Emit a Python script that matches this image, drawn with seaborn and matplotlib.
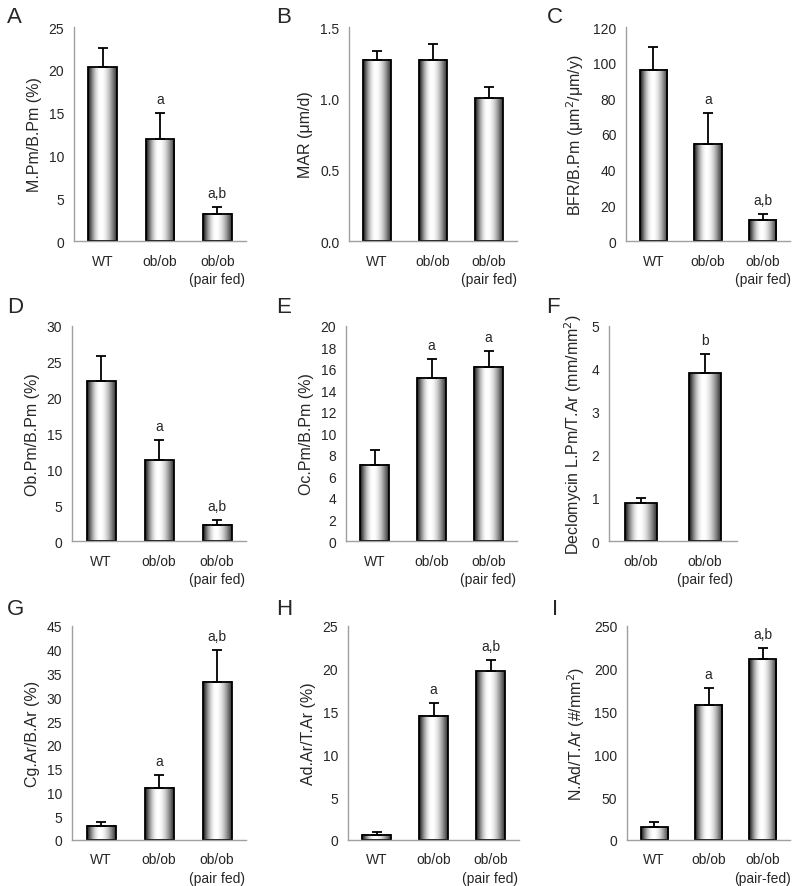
#!/usr/bin/python3
import numpy as np
import pandas as pd
import matplotlib
matplotlib.use('Agg')
from matplotlib import pyplot as plt
from matplotlib import ticker as ticker
import seaborn as sns

sns.set_style('white')
plt.rcParams['font.family'] = ['Liberation Sans', 'DejaVu Sans']

# data (mean, upper error)
three = ['WT', 'ob/ob', 'ob/ob\n(pair fed)']
three_dash = ['WT', 'ob/ob', 'ob/ob\n(pair-fed)']
two = ['ob/ob', 'ob/ob\n(pair fed)']

mpm_mean = [20.3, 11.9, 3.2]
mpm_err = [2.3, 3.1, 0.8]
mpm_marks = ['', 'a', 'a,b']

mar_mean = [1.27, 1.27, 1.00]
mar_err = [0.06, 0.11, 0.08]
mar_marks = ['', '', '']

bfr_mean = [96, 54.5, 12]
bfr_err = [13, 17.5, 3]
bfr_marks = ['', 'a', 'a,b']

obpm_mean = [22.3, 11.3, 2.3]
obpm_err = [3.5, 2.8, 0.6]
obpm_marks = ['', 'a', 'a,b']

ocpm_mean = [7.1, 15.2, 16.2]
ocpm_err = [1.4, 1.7, 1.5]
ocpm_marks = ['', 'a', 'a']

lpm_mean = [0.88, 3.9]
lpm_err = [0.13, 0.44]
lpm_marks = ['', 'b']

cgar_mean = [3.0, 11.0, 33.3]
cgar_err = [0.8, 2.7, 6.6]
cgar_marks = ['', 'a', 'a,b']

adar_mean = [0.6, 14.5, 19.7]
adar_err = [0.35, 1.5, 1.3]
adar_marks = ['', 'a', 'a,b']

nad_mean = [15, 158, 211]
nad_err = [6, 20, 13]
nad_marks = ['', 'a', 'a,b']


W, H = 800, 887
fig = plt.figure(figsize=(W/100, H/100), dpi=100)

# cylinder-like shading for the bars
xs = np.linspace(0, 1, 200)
shade = np.where(xs < 0.45,
                 0.06 + 0.94*np.sin(np.pi/2*xs/0.45),
                 0.18 + 0.82*np.cos(np.pi/2*(xs-0.45)/0.55))
grad = shade[np.newaxis, :]

gray = '#a0a0a0'
fs = 10


def panel(box, cats, means, errs, marks, ymax, step, ylabel, letter, letter_xy, fmt='%d'):
    left, right, top, bottom = box
    ax = fig.add_axes([left/W, 1-bottom/H, (right-left)/W, (bottom-top)/H])
    df = pd.DataFrame({'group': cats, 'value': means})
    sns.barplot(data=df, x='group', y='value', ax=ax, width=0.5, color='white',
                edgecolor='black', linewidth=1.3, errorbar=None)
    for p in ax.patches:
        p.set_facecolor('none')
        p.set_zorder(2)
        x0, y0, w, h = p.get_x(), p.get_y(), p.get_width(), p.get_height()
        ax.imshow(grad, extent=[x0, x0+w, y0, y0+h], aspect='auto', cmap='gray',
                  vmin=0, vmax=1, zorder=1, interpolation='bilinear')
    n = len(cats)
    ax.errorbar(range(n), means, yerr=[np.zeros(n), errs], fmt='none', ecolor='black',
                elinewidth=1.3, capsize=3.5, capthick=1.3, zorder=3)
    for i in range(n):
        if marks[i]:
            ax.annotate(marks[i], (i, means[i]+errs[i]), xytext=(0, 5), textcoords='offset points',
                        ha='center', va='bottom', fontsize=fs)
    ax.set_xlim(-0.5, n-0.5)
    ax.set_ylim(0, ymax)
    ax.yaxis.set_major_locator(ticker.MultipleLocator(step))
    ax.yaxis.set_major_formatter(ticker.FormatStrFormatter(fmt))
    ax.xaxis.set_minor_locator(ticker.FixedLocator(np.arange(n+1)-0.5))
    ax.tick_params(axis='x', which='major', length=0, pad=9, labelsize=fs)
    ax.tick_params(axis='x', which='minor', length=4, color=gray, direction='out', width=1)
    ax.tick_params(axis='y', length=4, color=gray, direction='out', width=1, labelsize=fs, pad=3)
    ax.set_xticks(range(n))
    ax.set_xticklabels(cats, linespacing=1.45)
    ax.set_xlabel('')
    ax.set_ylabel(ylabel, fontsize=11.5, labelpad=5)
    for s in ['top', 'right']:
        ax.spines[s].set_visible(False)
    for s in ['left', 'bottom']:
        ax.spines[s].set_color(gray)
        ax.spines[s].set_linewidth(1)
    ax.patch.set_alpha(0)
    fig.text(letter_xy[0]/W, 1-letter_xy[1]/H, letter, fontsize=16, va='top', ha='left')
    return ax


panel((74, 246, 28, 242), three, mpm_mean, mpm_err, mpm_marks, 25, 5, 'M.Pm/B.Pm (%)', 'A', (7, 7))
panel((349, 517, 28, 242), three, mar_mean, mar_err, mar_marks, 1.5, 0.5, 'MAR (\u03bcm/d)', 'B', (276, 7), fmt='%.1f')
panel((626, 790, 28, 242), three, bfr_mean, bfr_err, bfr_marks, 120, 20,
      'BFR/B.Pm (\u03bcm$^2$/\u03bcm/y)', 'C', (547, 7))

panel((72, 246, 327, 542), three, obpm_mean, obpm_err, obpm_marks, 30, 5, 'Ob.Pm/B.Pm (%)', 'D', (7, 297))
panel((346, 517, 327, 542), three, ocpm_mean, ocpm_err, ocpm_marks, 20, 2, 'Oc.Pm/B.Pm (%)', 'E', (276, 297))
panel((609, 737, 327, 542), two, lpm_mean, lpm_err, lpm_marks, 5, 1,
      'Declomycin L.Pm/T.Ar (mm/mm$^2$)', 'F', (546, 297))

panel((72, 246, 627, 841), three, cgar_mean, cgar_err, cgar_marks, 45, 5, 'Cg.Ar/B.Ar (%)', 'G', (7, 599))
panel((348, 519, 627, 841), three, adar_mean, adar_err, adar_marks, 25, 5, 'Ad.Ar/T.Ar (%)', 'H', (276, 599))
panel((627, 790, 627, 841), three_dash, nad_mean, nad_err, nad_marks, 250, 50,
      'N.Ad/T.Ar (#/mm$^2$)', 'I', (552, 599))

plt.savefig('out.png', dpi=100)
